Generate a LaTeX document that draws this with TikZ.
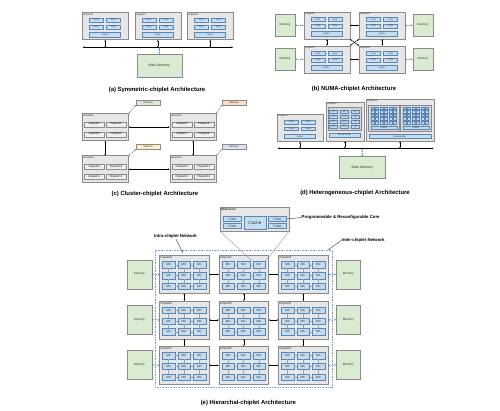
\documentclass[tikz,border=0pt]{standalone}
\usepackage{fontspec}
\setmainfont{Liberation Sans}
\usetikzlibrary{arrows.meta,calc}
\definecolor{chipfill}{HTML}{E6E6E6}
\definecolor{chipdraw}{HTML}{8A8A8A}
\definecolor{corefill}{HTML}{C4DCF0}
\definecolor{coredraw}{HTML}{5A86B6}
\definecolor{memfill}{HTML}{D9EBD1}
\definecolor{memdraw}{HTML}{8A8A8A}
\definecolor{linkblue}{HTML}{4A7EC0}
\definecolor{mempeach}{HTML}{FBDCC4}
\definecolor{memyellow}{HTML}{FFF1C4}
\definecolor{memlav}{HTML}{DCE3F5}
\definecolor{subfill}{HTML}{D4D4D4}
\tikzset{
  fs/.style={font=\fontsize{#1}{#1}\selectfont},
  chipbox/.style={draw=chipdraw, fill=chipfill, line width=0.5pt, inner sep=0, anchor=north west},
  subbox/.style={draw=chipdraw, fill=subfill, line width=0.4pt, inner sep=0},
  corebox/.style={draw=coredraw, fill=corefill, line width=0.35pt, inner sep=0, fs=2.2, text=black!80},
  mcbox/.style={draw=coredraw, fill=corefill, line width=0.4pt, inner sep=0, fs=3, text=black!80,
    minimum width=12.5, minimum height=6.5},
  minichip/.style={draw=chipdraw, fill=white!94!black, line width=0.35pt, inner sep=0, fs=2.6,
    minimum width=20, minimum height=5},
  lbl/.style={inner sep=0, anchor=north west, fs=2.4, text=black!85},
  membox/.style={draw=memdraw, fill=memfill, line width=0.4pt, inner sep=0, fs=3, text=black!80},
  busline/.style={line width=0.5pt, {Stealth[length=1.8pt,width=1.6pt]}-{Stealth[length=1.8pt,width=1.6pt]}},
  chiplink/.style={line width=0.5pt, {Stealth[length=1.5pt,width=1.5pt]}-{Stealth[length=1.5pt,width=1.5pt]}},
  memlink/.style={linkblue, line width=0.5pt, dash pattern=on 1pt off 0.7pt,
    {Stealth[length=1.5pt,width=1.5pt]}-{Stealth[length=1.5pt,width=1.5pt]}},
  meshline/.style={draw=gray!70, line width=0.3pt},
  annot/.style={draw=black!75, line width=0.4pt},
  captxt/.style={font=\bfseries\fontsize{5.9}{5.9}\selectfont, inner sep=0},
  boldtxt/.style={font=\bfseries\fontsize{4.3}{4.3}\selectfont, inner sep=0},
  stdchip/.pic={
    \node[chipbox, minimum width=46, minimum height=27] (-box) at (0,0) {};
    \node[lbl] (-lbl) at (0.8,0.6) {#1};
    \node[corebox, minimum width=14, minimum height=3.7] (-c1) at (14.5,7.65) {Core};
    \node[corebox, minimum width=14, minimum height=3.7] (-c2) at (31.5,7.65) {Core};
    \node[corebox, minimum width=14, minimum height=3.7] (-c3) at (14.5,14.35) {Core};
    \node[corebox, minimum width=14, minimum height=3.7] (-c4) at (31.5,14.35) {Core};
    \node[corebox, minimum width=31, minimum height=4.4] (-cache) at (23,22) {Cache};
  },
  cluster/.pic={
    \pgfmathtruncatemacro\cka{4*#1-3}
    \pgfmathtruncatemacro\ckb{4*#1-2}
    \pgfmathtruncatemacro\ckc{4*#1-1}
    \pgfmathtruncatemacro\ckd{4*#1}
    \node[chipbox, minimum width=46.6, minimum height=27] (-box) at (0,0) {};
    \node[lbl, fs=2.6] (-lbl) at (0.8,0.8) {Cluster\##1};
    \node[minichip] (-p1) at (12.3,10.9) {Chiplet\#\cka};
    \node[minichip] (-p2) at (34.3,10.9) {Chiplet\#\ckb};
    \node[minichip] (-p3) at (12.3,20.9) {Chiplet\#\ckc};
    \node[minichip] (-p4) at (34.3,20.9) {Chiplet\#\ckd};
  },
  mcchip/.pic={
    \node[chipbox, minimum width=49.5, minimum height=37.5] (-box) at (0,0) {};
    \node[lbl, fs=2.8] (-lbl) at (0.9,0.8) {#1};
    \foreach \r/\yy in {1/9.3,2/20,3/30.7}{
      \foreach \c/\xx in {1/9.3,2/24.75,3/40.2}{
        \node[mcbox] (-m\r\c) at (\xx,\yy) {MC};
      }
    }
    \foreach \r in {1,2,3}{
      \draw[meshline] (-m\r1) -- (-m\r2);
      \draw[meshline] (-m\r2) -- (-m\r3);
      \draw[meshline] (-m1\r) -- (-m2\r);
      \draw[meshline] (-m2\r) -- (-m3\r);
    }
  }
}
\begin{document}
\begin{tikzpicture}[x=1pt,y=-1pt]
\path[fill=white,use as bounding box] (0,0) rectangle (500,411);

% ---------------- (a) ----------------
\pic (a1) at (82,12.5) {stdchip=Chiplet\#1};
\pic (a2) at (134.5,12.5) {stdchip=Chiplet\#2};
\pic (a3) at (187,12.5) {stdchip=Chiplet\#3};
\coordinate (aBL) at (82.7,47.3);
\coordinate (aBR) at (233,47.3);
\draw[busline] (aBL) -- (aBR);
\foreach \k in {1,2,3}{\draw[chiplink] (a\k-box.south) -- (a\k-box.south |- aBL);}
\node[membox, minimum width=45, minimum height=23.3, fs=3.5] (amem) at (159.2,65.7) {Main Memory};
\draw[memlink] (amem.north) -- (amem.north |- aBL);
\node[captxt] (capa) at (157,89.5) {(a) Symmetric-chiplet Architecture};

% ---------------- (b) ----------------
\pic (b1) at (303.5,11.7) {stdchip=Chiplet\#1};
\pic (b2) at (359,11.7) {stdchip=Chiplet\#2};
\pic (b3) at (303.5,45.7) {stdchip=Chiplet\#3};
\pic (b4) at (359,45.7) {stdchip=Chiplet\#4};
\draw[chiplink] (b1-box.east) -- (b2-box.west);
\draw[chiplink] (b3-box.east) -- (b4-box.west);
\draw[chiplink] (b1-box.south) -- (b3-box.north);
\draw[chiplink] (b2-box.south) -- (b4-box.north);
\draw[chiplink] (b1-box.south east) -- (b4-box.north west);
\draw[chiplink] (b2-box.south west) -- (b3-box.north east);
\node[membox, minimum width=20.5, minimum height=22.5] (bm1) at (285,25.2) {Memory};
\node[membox, minimum width=20.5, minimum height=22.5] (bm3) at (285,59.2) {Memory};
\node[membox, minimum width=20.5, minimum height=22.5] (bm2) at (423,25.2) {Memory};
\node[membox, minimum width=20.5, minimum height=22.5] (bm4) at (423,59.2) {Memory};
\draw[memlink] (bm1.east) -- (b1-box.west);
\draw[memlink] (bm3.east) -- (b3-box.west);
\draw[memlink] (b2-box.east) -- (bm2.west);
\draw[memlink] (b4-box.east) -- (bm4.west);
\node[captxt] (capb) at (354,88.5) {(b) NUMA-chiplet Architecture};

% ---------------- (c) ----------------
\pic (k1) at (81.7,113.3) {cluster=1};
\pic (k2) at (169.5,113.3) {cluster=2};
\pic (k3) at (81.7,155.5) {cluster=3};
\pic (k4) at (169.5,155.5) {cluster=4};
\draw[chiplink] (k1-box.east) -- (k2-box.west);
\draw[chiplink] (k3-box.east) -- (k4-box.west);
\draw[chiplink] (k1-box.south) -- (k3-box.north);
\draw[chiplink] (k2-box.south) -- (k4-box.north);
\node[membox, minimum width=24.5, minimum height=5, fs=2.6] (km1) at (148.3,102.5) {Memory};
\node[membox, fill=mempeach, minimum width=24.5, minimum height=5, fs=2.6] (km2) at (234,102.5) {Memory};
\node[membox, fill=memyellow, minimum width=24.5, minimum height=5, fs=2.6] (km3) at (148.3,146.8) {Memory};
\node[membox, fill=memlav, minimum width=24.5, minimum height=5, fs=2.6] (km4) at (234,146.8) {Memory};
\foreach \k in {1,2,3,4}{\draw[memlink] (km\k.south west) -- (k\k-box.north east);}
\node[captxt] (capc) at (155,193.5) {(c) Cluster-chiplet Architecture};

% ---------------- (d) ----------------
\pic (d1) at (276.7,114.3) {stdchip=Chiplet\#1};
% chiplet 2
\node[chipbox, minimum width=38, minimum height=39] (d2box) at (325.5,102) {};
\node[lbl] (d2lbl) at (326.3,102.7) {Chiplet\#2};
\node[subbox, minimum width=33, minimum height=22.5] (d2sub) at (344.5,118.75) {};
\foreach \r/\yy in {1/111.5,2/116.5,3/121.5,4/126.5}{
  \foreach \c/\xx in {1/333.5,2/344.5,3/355.5}{
    \node[corebox, minimum width=8, minimum height=3, fs=1.9] (pe\r\c) at (\xx,\yy) {PE};
  }
}
\node[corebox, minimum width=31, minimum height=4.5] (d2gb) at (344.5,135.2) {Global Buffer};
% chiplet 3
\node[chipbox, minimum width=67.5, minimum height=42] (d3box) at (366,99) {};
\node[lbl] (d3lbl) at (366.8,99.7) {Chiplet\#3};
\foreach \s/\sx in {1/383.75,2/415.75}{
  \node[subbox, minimum width=30.5, minimum height=26] (sb\s) at (\sx,118) {};
  \foreach \r/\yy in {1/108,2/111.6,3/115.2,4/118.8,5/122.4}{
    \foreach \c in {0,...,5}{
      \node[corebox, minimum width=3, minimum height=2.6] (sq\s\r\c) at ({\sx-11.25+4.5*\c},\yy) {};
    }
  }
  \node[corebox, minimum width=26, minimum height=3.4] (sc\s) at (\sx,127.5) {Cache};
}
\node[corebox, minimum width=62, minimum height=4.4] (d3gb) at (399.75,136.3) {Global Buffer};
\coordinate (dBL) at (277.7,148.3);
\coordinate (dBR) at (433.5,148.3);
\draw[busline] (dBL) -- (dBR);
\draw[chiplink] (d1-box.south) -- (d1-box.south |- dBL);
\draw[chiplink] (d2box.south) -- (d2box.south |- dBL);
\draw[chiplink] (d3box.south) -- (d3box.south |- dBL);
\node[membox, minimum width=45.7, minimum height=21.6, fs=3.5] (dmem) at (362.2,167.5) {Main Memory};
\draw[memlink] (dmem.north) -- (dmem.north |- dBL);
\node[captxt] (capd) at (355,192.7) {(d) Heterogeneous-chiplet Architecture};

% ---------------- (e) ----------------
\node[draw=linkblue!70, line width=0.4pt, dash pattern=on 0.8pt off 0.8pt, inner sep=0,
  minimum width=176.7, minimum height=136.2, anchor=north west] (netframe) at (155,250.5) {};
\foreach \i/\xx/\yy in {1/159.3/255.5,2/218.8/255.5,3/278.3/255.5,
                        4/159.3/301,5/218.8/301,6/278.3/301,
                        7/159.3/346.3,8/218.8/346.3,9/278.3/346.3}{
  \pic (e\i) at (\xx,\yy) {mcchip=Chiplet\#\i};
}
\foreach \a/\b in {1/2,2/3,4/5,5/6,7/8,8/9}{\draw[chiplink] (e\a-box.east) -- (e\b-box.west);}
\foreach \a/\b in {1/4,2/5,3/6,4/7,5/8,6/9}{\draw[chiplink] (e\a-box.south) -- (e\b-box.north);}
\foreach \r/\yy/\lc/\rc in {1/274.25/1/3,2/319.75/4/6,3/365.05/7/9}{
  \node[membox, minimum width=24.4, minimum height=29] (lm\r) at (139.5,\yy) {Memory};
  \node[membox, minimum width=24.4, minimum height=29] (rm\r) at (348.3,\yy) {Memory};
  \draw[memlink] (lm\r.east) -- (e\lc-box.west);
  \draw[memlink] (e\rc-box.east) -- (rm\r.west);
}
% multi-core zoom
\node[chipbox, minimum width=68.5, minimum height=23.5] (mcore) at (220,207.3) {};
\node[lbl, font=\bfseries\fontsize{3}{3}\selectfont] (mclbl) at (221,208.3) {Multi-Core};
\node[corebox, minimum width=18.5, minimum height=5.2, fs=3.6] (mc1) at (232.3,219) {Core};
\node[corebox, minimum width=18.5, minimum height=5.2, fs=3.6] (mc2) at (232.3,225.8) {Core};
\node[corebox, minimum width=22, minimum height=13.2, fs=4.5] (mcc) at (254.8,222.4) {Cache};
\node[corebox, minimum width=18.5, minimum height=5.2, fs=3.6] (mc3) at (277.2,219) {Core};
\node[corebox, minimum width=18.5, minimum height=5.2, fs=3.6] (mc4) at (277.2,225.8) {Core};
\draw[annot, draw=gray!80] (mcore.south west) -- (e2-m13.north west);
\draw[annot, draw=gray!80] (mcore.south east) -- (e2-m13.north east);
\node[boldtxt, anchor=west] (progtxt) at (301.5,217.5) {Programmable \& Reconfigurable Core};
\draw[annot] (mc3.east) -- (progtxt.west);
\node[boldtxt] (intratxt) at (175.5,236) {Intra-chiplet Network};
\coordinate (intraend) at (182.7,252.5);
\draw[annot, -{Circle[length=1.2pt]}] ($(intratxt.south)+(0.5,1)$) -- (intraend);
\node[boldtxt, anchor=west] (intertxt) at (341.5,240.3) {Inter-chiplet Network};
\coordinate (interend) at (328.5,249.6);
\draw[annot, -{Circle[length=1.2pt]}] (intertxt.west) -- (interend);
\node[captxt] (cape) at (248.3,402.7) {(e) Hierarchal-chiplet Architecture};
\end{tikzpicture}
\end{document}
